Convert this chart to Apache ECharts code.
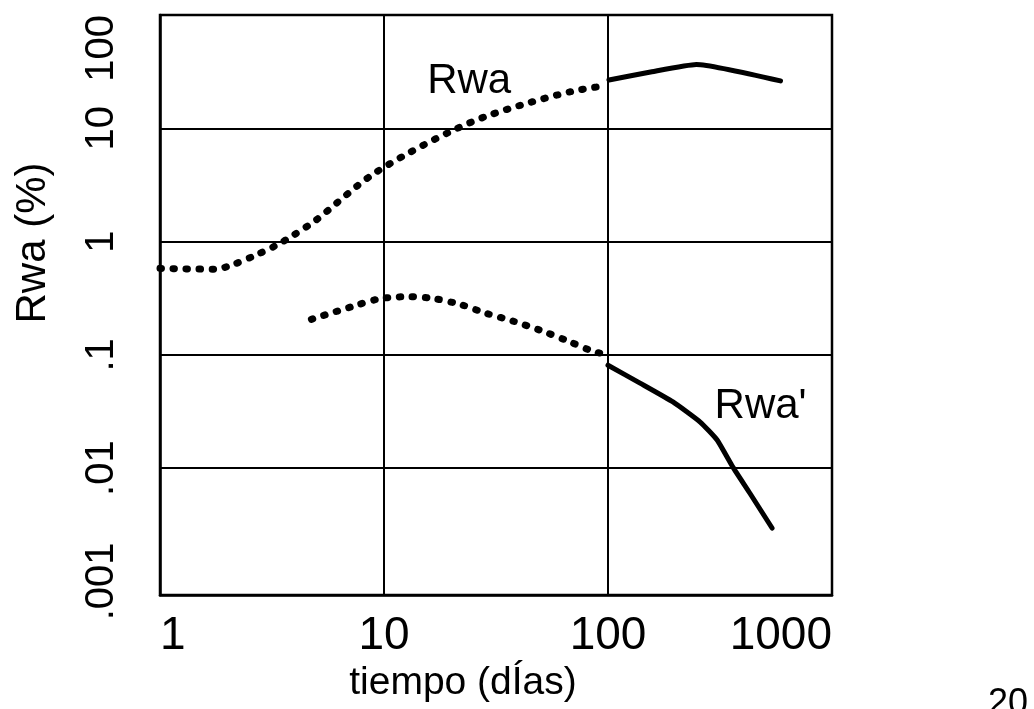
<!DOCTYPE html>
<html>
<head>
<meta charset="utf-8">
<script src="https://cdn.jsdelivr.net/npm/echarts@6/dist/echarts.min.js"></script>
<style>
html,body{margin:0;padding:0;background:#fff;}
#chart{width:1034px;height:709px;}
</style>
</head>
<body>
<div id="chart"></div>
<script>
// ---- data ----
const xTickLabels = ['1', '10', '100', '1000'];
const yTickLabels = ['.001', '.01', '.1', '1', '10', '100'];
const yGridValues = [0.01, 0.1, 1, 10];

const rwaDotDays = [1.0, 1.75, 2.09, 2.66, 3.28, 3.92, 5.0, 6.17, 7.6, 9.1, 12.8, 19.9, 28.7, 44.9, 69.3, 95];
const rwaDotVals = [0.58, 0.57, 0.62, 0.755, 0.92, 1.13, 1.56, 2.2, 3.1, 4.03, 6.0, 9.4, 12.8, 16.9, 21.2, 23.6];

const rwaSolidDays = [101, 157, 248, 589];
const rwaSolidVals = [26.7, 31.6, 36.6, 26.2];

const rwapDotDays = [4.74, 7.22, 9.6, 13.0, 16.8, 22.1, 28.7, 37.8, 49.7, 64.7, 85.1, 100];
const rwapDotVals = [0.206, 0.267, 0.313, 0.326, 0.313, 0.277, 0.232, 0.198, 0.165, 0.135, 0.108, 0.1];

const rwapSolidDays = [100, 139, 195, 258, 307, 361, 430, 540];
const rwapSolidVals = [0.081, 0.0563, 0.0384, 0.0255, 0.0177, 0.0102, 0.0060, 0.00296];

const labelRwa = {text: 'Rwa', day: 24, val: 25.7};
const labelRwap = {text: "Rwa'", day: 480, val: 0.0347};

// ---- helpers ----
function pairs(xs, ys) { return xs.map((x, i) => [x, ys[i]]); }
function tickFmt(labels, minExp) {
  return function (v) {
    const e = Math.log10(v);
    const r = Math.round(e);
    if (Math.abs(e - r) > 1e-6) return '';
    const idx = r - minExp;
    return labels[idx] !== undefined ? labels[idx] : '';
  };
}
const FONT = "'Liberation Sans', Arial, Helvetica, sans-serif";

const dotStyle = {color: '#000', width: 7, type: [1.5, 11.5], cap: 'round'};
const solidStyle = {color: '#000', width: 5, cap: 'round', join: 'round'};

const chart = echarts.init(document.getElementById('chart'), null, {renderer: 'canvas'});
chart.setOption({
  animation: false,
  backgroundColor: '#fff',
  grid: {
    left: 160, right: 202, top: 15, bottom: 114,
    show: true, borderColor: '#000', borderWidth: 2.5,
    containLabel: false, outerBoundsMode: 'none'
  },
  xAxis: {
    type: 'log', logBase: 10, min: 1, max: 1000,
    axisLine: {show: true, onZero: false, lineStyle: {color: '#000', width: 2.5}},
    axisTick: {show: false},
    minorTick: {show: false},
    splitLine: {show: true, lineStyle: {color: '#000', width: 2}},
    axisLabel: {
      color: '#000', fontSize: 46, fontFamily: FONT, margin: 18,
      formatter: tickFmt(xTickLabels, 0), showMinLabel: true, showMaxLabel: true,
      alignMinLabel: 'left', alignMaxLabel: 'right'
    },
    name: 'tiempo (dÍas)',
    nameLocation: 'middle', nameGap: 59,
    nameTextStyle: {color: '#000', fontSize: 39, fontFamily: FONT, padding: [0, 66, 0, 0]}
  },
  yAxis: {
    type: 'log', logBase: 10, min: Math.pow(10, -3.12), max: 100,
    axisLine: {show: true, onZero: false, lineStyle: {color: '#000', width: 2.5}},
    axisTick: {show: false},
    minorTick: {show: false},
    splitLine: {show: false},
    axisLabel: {
      color: '#000', fontSize: 40, fontFamily: FONT, margin: 38, rotate: 90,
      formatter: tickFmt(yTickLabels, -3), showMinLabel: false, alignMaxLabel: 'right'
    },
    name: 'Rwa (%)',
    nameLocation: 'middle', nameGap: 106,
    nameTextStyle: {color: '#000', fontSize: 42, fontFamily: FONT, padding: [0, 0, 0, 124]}
  },
  series: [
    {
      name: 'Rwa dotted', type: 'line', data: pairs(rwaDotDays, rwaDotVals),
      showSymbol: false, smooth: 0.3, lineStyle: dotStyle, z: 3,
      markPoint: {
        symbol: 'circle', symbolSize: 0,
        label: {show: true, formatter: labelRwa.text, color: '#000', fontSize: 42, fontFamily: FONT, position: 'inside'},
        data: [{coord: [labelRwa.day, labelRwa.val]}]
      },
      markLine: {
        silent: true, symbol: 'none', animation: false,
        label: {show: false},
        lineStyle: {color: '#000', width: 2, type: 'solid'},
        emphasis: {disabled: true},
        data: yGridValues.map(v => ({yAxis: v}))
      }
    },
    {
      name: 'Rwa solid', type: 'line', data: pairs(rwaSolidDays, rwaSolidVals),
      showSymbol: false, smooth: 0.15, lineStyle: solidStyle, z: 3
    },
    {
      name: "Rwa' dotted", type: 'line', data: pairs(rwapDotDays, rwapDotVals),
      showSymbol: false, smooth: 0.3, lineStyle: dotStyle, z: 3
    },
    {
      name: "Rwa' solid", type: 'line', data: pairs(rwapSolidDays, rwapSolidVals),
      showSymbol: false, smooth: 0.15, lineStyle: solidStyle, z: 3,
      markPoint: {
        symbol: 'circle', symbolSize: 0,
        label: {show: true, formatter: labelRwap.text, color: '#000', fontSize: 42, fontFamily: FONT, position: 'inside'},
        data: [{coord: [labelRwap.day, labelRwap.val]}]
      }
    }
  ],
  graphic: [
    {type: 'text', left: 988, top: 686, style: {text: '20', fill: '#000', font: "36px 'Liberation Sans', Arial, sans-serif"}}
  ]
});
</script>
</body>
</html>
